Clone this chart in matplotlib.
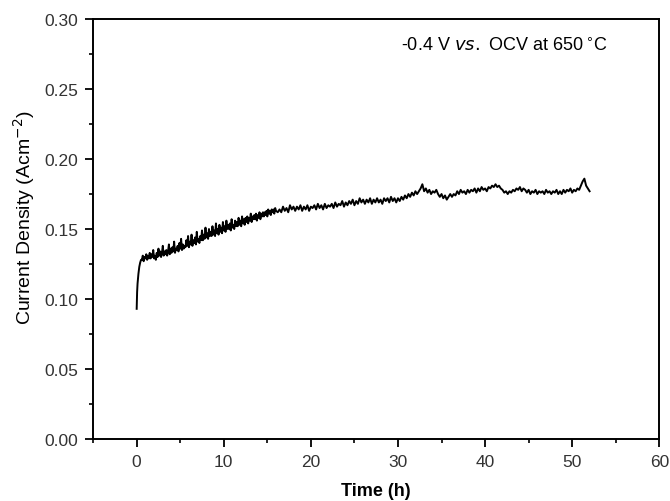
import numpy as np
import matplotlib
matplotlib.use("Agg")
import matplotlib.pyplot as plt
from matplotlib.ticker import MultipleLocator

plt.rcParams['font.family'] = ['Liberation Sans', 'DejaVu Sans']

# Initial rise (h, A/cm^2)
t_start = [0.0, 0.05, 0.1, 0.2, 0.3, 0.4, 0.5]
j_start = [0.093, 0.105, 0.111, 0.118, 0.123, 0.126, 0.128]

# Early noisy record: 0.6 h to 16.0 h every 0.1 h
early_first, early_step = 0.6, 0.1
j_early = [
    0.128, 0.131, 0.127, 0.130, 0.129, 0.132, 0.128, 0.131, 0.129, 0.133,
    0.129, 0.132, 0.130, 0.135, 0.129, 0.131, 0.128, 0.133, 0.130, 0.136,
    0.131, 0.134, 0.130, 0.133, 0.138, 0.131, 0.134, 0.132, 0.135, 0.131,
    0.134, 0.139, 0.132, 0.136, 0.133, 0.137, 0.134, 0.141, 0.133, 0.136,
    0.135, 0.138, 0.134, 0.140, 0.136, 0.143, 0.135, 0.139, 0.136, 0.138,
    0.137, 0.142, 0.138, 0.145, 0.137, 0.141, 0.139, 0.146, 0.138, 0.142,
    0.140, 0.144, 0.139, 0.148, 0.141, 0.143, 0.140, 0.145, 0.142, 0.149,
    0.142, 0.146, 0.143, 0.151, 0.144, 0.147, 0.143, 0.150, 0.145, 0.148,
    0.145, 0.152, 0.146, 0.149, 0.145, 0.154, 0.147, 0.150, 0.146, 0.153,
    0.148, 0.151, 0.147, 0.155, 0.149, 0.152, 0.148, 0.156, 0.150, 0.153,
    0.150, 0.154, 0.149, 0.157, 0.151, 0.153, 0.150, 0.156, 0.152, 0.155,
    0.152, 0.158, 0.153, 0.156, 0.152, 0.159, 0.154, 0.157, 0.153, 0.158,
    0.155, 0.159, 0.154, 0.158, 0.156, 0.161, 0.155, 0.159, 0.157, 0.160,
    0.157, 0.161, 0.156, 0.160, 0.158, 0.162, 0.157, 0.161, 0.159, 0.162,
    0.159, 0.162, 0.160, 0.163, 0.159, 0.164, 0.161, 0.163, 0.160, 0.164,
    0.162, 0.164, 0.161, 0.165, 0.163,
]

# Later record: 16.2 h to 52.0 h every 0.2 h
late_first, late_step = 16.2, 0.2
j_late = [
    0.162, 0.164,
    0.162, 0.166, 0.163, 0.165, 0.162, 0.167, 0.164, 0.166, 0.163, 0.166,
    0.164, 0.167, 0.163, 0.166, 0.164, 0.167, 0.163, 0.166, 0.165, 0.167,
    0.164, 0.168, 0.165, 0.167, 0.164, 0.168, 0.165, 0.167, 0.166, 0.168,
    0.165, 0.169, 0.166, 0.168, 0.167, 0.170, 0.166, 0.169, 0.167, 0.170,
    0.168, 0.171, 0.167, 0.170, 0.168, 0.172, 0.169, 0.171, 0.168, 0.171,
    0.169, 0.172, 0.168, 0.171, 0.169, 0.172, 0.169, 0.171, 0.168, 0.172,
    0.170, 0.172, 0.169, 0.173, 0.170, 0.172, 0.169, 0.172, 0.170, 0.173,
    0.171, 0.174, 0.172, 0.175, 0.173, 0.176, 0.174, 0.177, 0.175, 0.177,
    0.179, 0.182, 0.177, 0.179, 0.176, 0.178, 0.175, 0.177, 0.176, 0.178,
    0.175, 0.173, 0.175, 0.172, 0.174, 0.171, 0.173, 0.175, 0.173, 0.175,
    0.174, 0.177, 0.175, 0.178, 0.176, 0.177, 0.175, 0.178, 0.176, 0.178,
    0.177, 0.179, 0.176, 0.179, 0.177, 0.180, 0.178, 0.179, 0.177, 0.180,
    0.179, 0.181, 0.180, 0.182, 0.180, 0.181, 0.179, 0.178, 0.176, 0.177,
    0.175, 0.177, 0.176, 0.178, 0.177, 0.179, 0.178, 0.180, 0.177, 0.179,
    0.178, 0.176, 0.178, 0.175, 0.177, 0.176, 0.178, 0.175, 0.177, 0.176,
    0.177, 0.175, 0.178, 0.176, 0.177, 0.175, 0.177, 0.176, 0.178, 0.175,
    0.177, 0.175, 0.178, 0.176, 0.178, 0.177, 0.179, 0.176, 0.178, 0.177,
    0.179, 0.178, 0.181, 0.184, 0.186, 0.181, 0.179, 0.177,
]

x_ticks = [0, 10, 20, 30, 40, 50, 60]
y_ticks = [0.00, 0.05, 0.10, 0.15, 0.20, 0.25, 0.30]

t_early = early_first + early_step * np.arange(len(j_early))
t_late = late_first + late_step * np.arange(len(j_late))
t = np.concatenate([t_start, t_early, t_late])
j = np.concatenate([j_start, j_early, j_late])

fig = plt.figure(figsize=(6.7, 5.02), dpi=100)
ax = fig.add_axes([0.139, 0.1235, 0.845, 0.8365])
ax.plot(t, j, color='black', linewidth=1.4)

ax.set_xlim(-5, 60)
ax.set_ylim(0, 0.30)
ax.set_xticks(x_ticks)
ax.set_yticks(y_ticks)
ax.set_yticklabels([f"{v:.2f}" for v in y_ticks])
ax.xaxis.set_minor_locator(MultipleLocator(5))
ax.yaxis.set_minor_locator(MultipleLocator(0.025))
ax.tick_params(which='major', direction='out', length=5.5, width=1.3,
               labelsize=12.5, colors='black', labelcolor='#333333', pad=5)
ax.tick_params(which='minor', direction='out', length=3, width=1.2)
ax.tick_params(top=False, right=False, which='both')
for s in ax.spines.values():
    s.set_linewidth(1.4)

ax.set_xlabel('Time (h)', fontsize=13, fontweight='bold', labelpad=10)
ax.set_ylabel('Current Density (Acm$^{-2}$)', fontsize=14)
ax.yaxis.set_label_coords(-0.099, 0.529)

ax.text(30.3, 0.281, r'-0.4 V $\mathit{vs.}$ OCV at 650$\,^{\circ}$C',
        fontsize=13, ha='left', va='center')

fig.savefig('out.png', dpi=100)
